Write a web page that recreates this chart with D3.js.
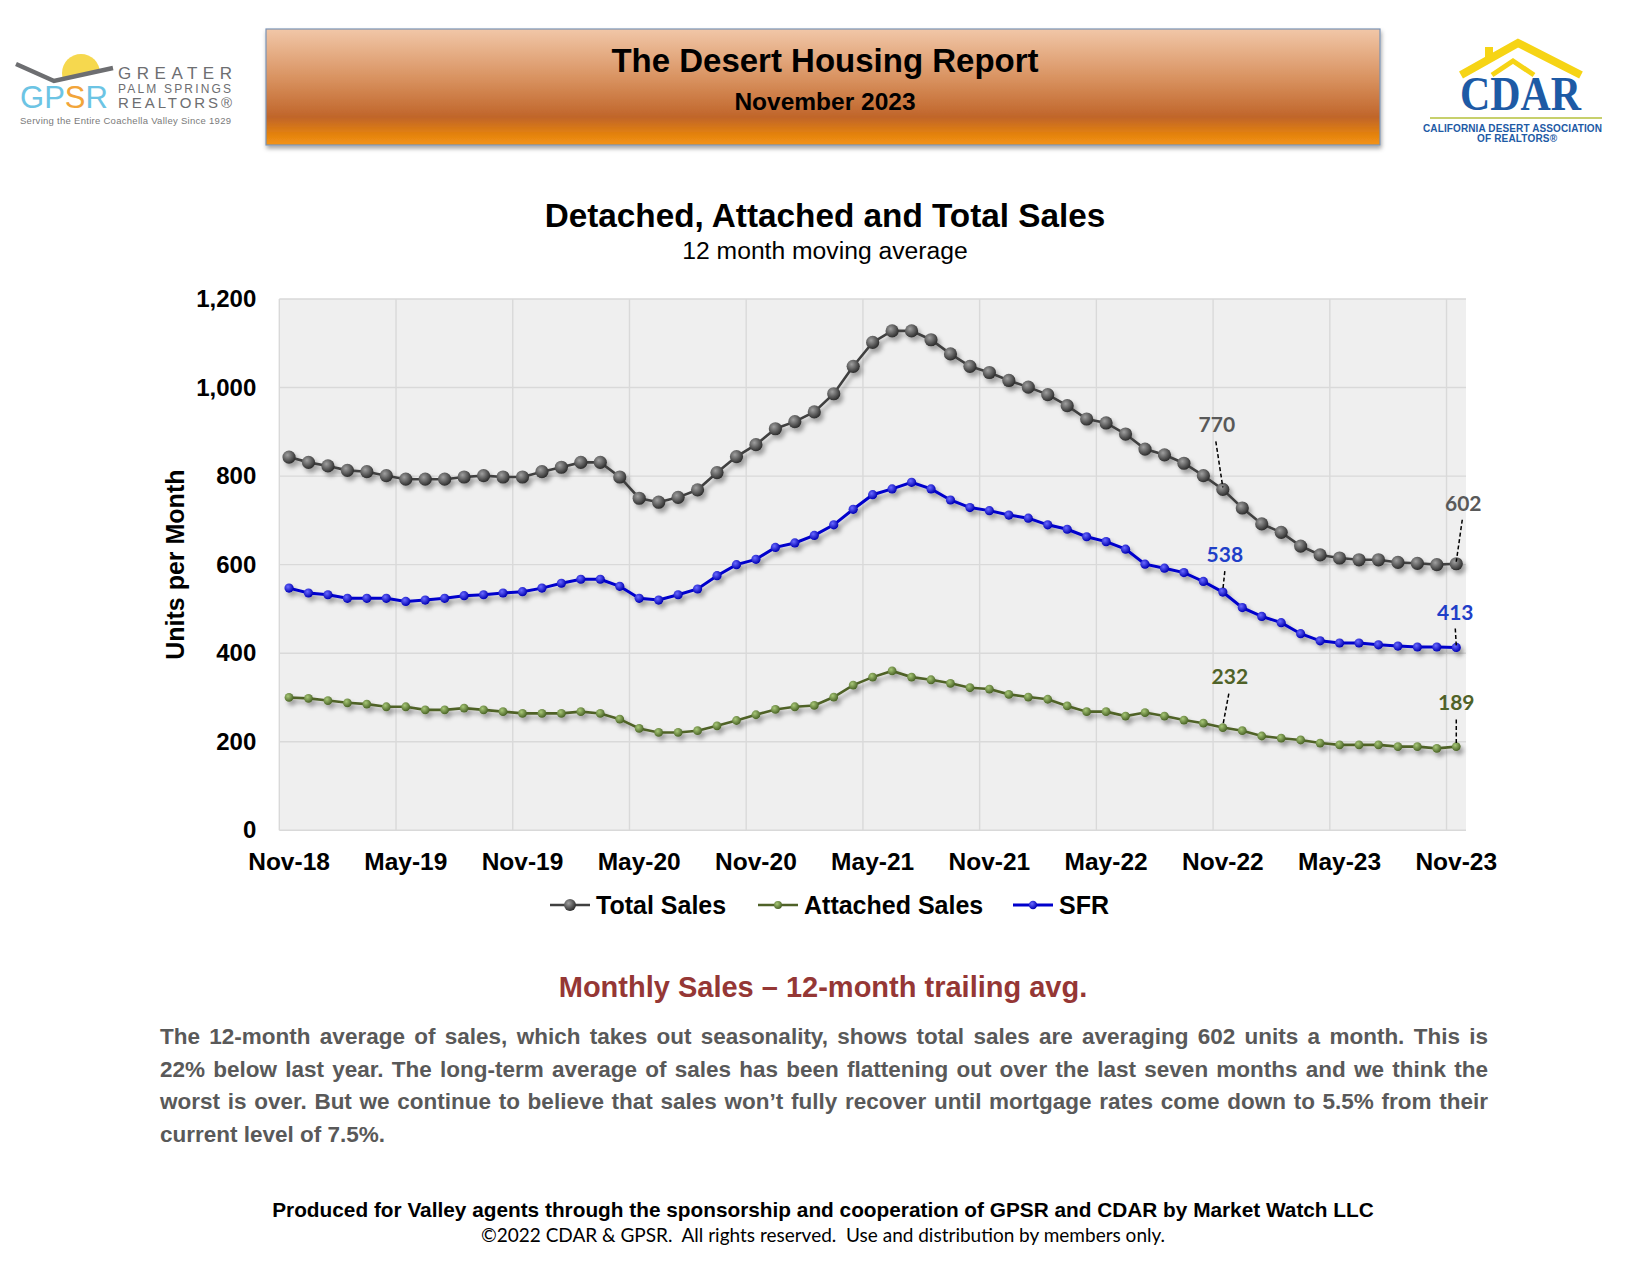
<!DOCTYPE html>
<html>
<head>
<meta charset="utf-8">
<script src="https://cdn.jsdelivr.net/npm/d3@7"></script>
<style>
  body { margin:0; background:#fff; }
  svg { display:block; }
</style>
</head>
<body>
<svg id="page" width="1650" height="1275"></svg>
<script>
// ---- data ----
const months = ["Nov-18","Dec-18","Jan-19","Feb-19","Mar-19","Apr-19","May-19","Jun-19","Jul-19","Aug-19","Sep-19","Oct-19",
  "Nov-19","Dec-19","Jan-20","Feb-20","Mar-20","Apr-20","May-20","Jun-20","Jul-20","Aug-20","Sep-20","Oct-20",
  "Nov-20","Dec-20","Jan-21","Feb-21","Mar-21","Apr-21","May-21","Jun-21","Jul-21","Aug-21","Sep-21","Oct-21",
  "Nov-21","Dec-21","Jan-22","Feb-22","Mar-22","Apr-22","May-22","Jun-22","Jul-22","Aug-22","Sep-22","Oct-22",
  "Nov-22","Dec-22","Jan-23","Feb-23","Mar-23","Apr-23","May-23","Jun-23","Jul-23","Aug-23","Sep-23","Oct-23","Nov-23"];
const tickMonths = ["Nov-18","May-19","Nov-19","May-20","Nov-20","May-21","Nov-21","May-22","Nov-22","May-23","Nov-23"];
const yTicks = [0,200,400,600,800,1000,1200];

const totalSales = [843,831,823,813,810,801,793,793,793,798,801,798,
  798,810,820,831,831,798,750,741,752,769,808,844,
  871,907,923,945,986,1048,1102,1128,1128,1108,1076,1048,
  1034,1016,1001,984,959,929,920,895,861,848,829,801,
  770,728,692,673,642,622,615,611,611,605,603,600,602];
const attachedSales = [300,298,293,288,285,279,279,272,272,276,272,268,
  264,264,264,268,264,251,230,221,221,225,236,248,
  261,273,279,282,301,328,346,360,346,340,332,322,
  319,307,301,296,281,268,268,258,266,258,249,242,
  232,225,213,208,204,197,193,193,193,189,189,185,189];
const sfrSales = [547,536,532,524,524,524,517,520,524,530,532,536,
  539,547,558,567,567,551,524,520,532,545,575,600,
  612,639,649,666,690,725,758,771,786,771,746,729,
  722,712,705,690,680,663,652,635,601,592,582,562,
  538,503,483,469,444,428,423,423,419,416,414,414,413];

const series = [
  { key:"total", name:"Total Sales",    values: totalSales,    line:"#404040", hi:"#a0a0a0", lo:"#2e2e2e", r:6.6, w:2.6, label:"#595959" },
  { key:"att",   name:"Attached Sales", values: attachedSales, line:"#4f6228", hi:"#a8c878", lo:"#4a6426", r:4.4, w:2.6, label:"#4f6228" },
  { key:"sfr",   name:"SFR",            values: sfrSales,      line:"#0000cc", hi:"#6a6aff", lo:"#0000b4", r:4.6, w:3,   label:"#1f3fc8" }
];
// callouts: which point, and where its label sits relative to it
const callouts = [
  { key:"total", month:"Nov-22", dx:-6, dy:-65, lx:-7, ly:-48 },
  { key:"total", month:"Nov-23", dx:7,  dy:-60, lx:6,  ly:-44 },
  { key:"sfr",   month:"Nov-22", dx:2,  dy:-37, lx:2,  ly:-21 },
  { key:"sfr",   month:"Nov-23", dx:-1, dy:-35, lx:-1, ly:-19 },
  { key:"att",   month:"Nov-22", dx:7,  dy:-51, lx:6,  ly:-34 },
  { key:"att",   month:"Nov-23", dx:0,  dy:-44, lx:0,  ly:-27 }
];

const paragraph = [
  "The 12-month average of sales, which takes out seasonality, shows total sales are averaging 602 units a month. This is",
  "22% below last year. The long-term average of sales has been flattening out over the last seven months and we think the",
  "worst is over. But we continue to believe that sales won\u2019t fully recover until mortgage rates come down to 5.5% from their",
  "current level of 7.5%."
];

const SANS = "'Liberation Sans', Arial, Helvetica, sans-serif";
const svg = d3.select("#page");
const defs = svg.append("defs");

// ---- banner ----
const bg = defs.append("linearGradient").attr("id","banner").attr("x1",0).attr("y1",0).attr("x2",0).attr("y2",1);
[[0,"#f1c7a8"],[0.45,"#d78f5c"],[0.76,"#c0652a"],[0.9,"#e2800f"],[1,"#f49414"]].forEach(s =>
  bg.append("stop").attr("offset",s[0]).attr("stop-color",s[1]));
const shadow = defs.append("filter").attr("id","bshadow").attr("x","-5%").attr("y","-10%").attr("width","110%").attr("height","130%");
shadow.append("feDropShadow").attr("dx",1).attr("dy",3).attr("stdDeviation",2).attr("flood-color","#000").attr("flood-opacity",0.35);

svg.append("rect").attr("x",266).attr("y",29).attr("width",1114).attr("height",116)
  .attr("fill","url(#banner)").attr("stroke","#7b93b5").attr("stroke-width",1.2).attr("filter","url(#bshadow)");
svg.append("text").attr("x",825).attr("y",72).attr("text-anchor","middle")
  .style("font-family",SANS).style("font-weight","bold").style("font-size","33px").attr("fill","#000")
  .text("The Desert Housing Report");
svg.append("text").attr("x",825).attr("y",110).attr("text-anchor","middle")
  .style("font-family",SANS).style("font-weight","bold").style("font-size","24.5px").attr("fill","#000")
  .text("November 2023");

// ---- GPSR logo ----
const gp = svg.append("g");
defs.append("clipPath").attr("id","sunclip").append("polygon").attr("points","0,0 200,0 200,68 112,68 54,80 0,64");
gp.append("circle").attr("cx",81).attr("cy",73).attr("r",19).attr("fill","#f6d84e").attr("clip-path","url(#sunclip)");
gp.append("polyline").attr("points","16,64 54,81 113,68").attr("fill","none").attr("stroke","#6d6e71").attr("stroke-width",4.5);
const gpsr = gp.append("text").attr("x",20).attr("y",108).style("font-family",SANS).style("font-size","31px");
[["G","#6cc4e4"],["P","#6cc4e4"],["S","#f2a53a"],["R","#6cc4e4"]].forEach(c => gpsr.append("tspan").attr("fill",c[1]).text(c[0]));
gp.append("text").attr("x",118).attr("y",79).attr("textLength",114).style("font-family",SANS).style("font-size","17px").attr("fill","#6d6e71").text("GREATER");
gp.append("text").attr("x",118).attr("y",93).attr("textLength",113).style("font-family",SANS).style("font-size","12px").attr("fill","#6d6e71").text("PALM SPRINGS");
gp.append("text").attr("x",118).attr("y",108).attr("textLength",114).style("font-family",SANS).style("font-size","15px").attr("fill","#6d6e71").text("REALTORS\u00ae");
gp.append("text").attr("x",20).attr("y",124).attr("textLength",211).style("font-family",SANS).style("font-size","9.5px").attr("fill","#7a7a7a")
  .text("Serving the Entire Coachella Valley Since 1929");

// ---- CDAR logo ----
const cd = svg.append("g");
cd.append("rect").attr("x",1485).attr("y",47).attr("width",8).attr("height",14).attr("fill","#f6d415");
cd.append("polyline").attr("points","1461,75 1518,43 1581,75").attr("fill","none").attr("stroke","#f6d415").attr("stroke-width",8).attr("stroke-linejoin","miter");
cd.append("polyline").attr("points","1492,75 1513,61 1534,75").attr("fill","none").attr("stroke","#f6d415").attr("stroke-width",5);
cd.append("text").attr("x",1460).attr("y",110).attr("textLength",121).attr("lengthAdjust","spacingAndGlyphs")
  .style("font-family","'Liberation Serif','DejaVu Serif',serif").style("font-weight","bold").style("font-size","48px").attr("fill","#1d5aa5").text("CDAR");
cd.append("line").attr("x1",1430).attr("x2",1602).attr("y1",118).attr("y2",118).attr("stroke","#c7d06c").attr("stroke-width",2);
cd.append("text").attr("x",1423).attr("y",131.5).attr("textLength",179).style("font-family",SANS).style("font-weight","bold").style("font-size","10px").attr("fill","#1d5aa5")
  .text("CALIFORNIA DESERT ASSOCIATION");
cd.append("text").attr("x",1517).attr("y",141.5).attr("text-anchor","middle").attr("textLength",80).style("font-family",SANS).style("font-weight","bold").style("font-size","10px").attr("fill","#1d5aa5")
  .text("OF REALTORS\u00ae");

// ---- chart titles ----
svg.append("text").attr("x",825).attr("y",227).attr("text-anchor","middle")
  .style("font-family",SANS).style("font-weight","bold").style("font-size","33.3px").attr("fill","#000")
  .text("Detached, Attached and Total Sales");
svg.append("text").attr("x",825).attr("y",259).attr("text-anchor","middle")
  .style("font-family",SANS).style("font-size","24.7px").attr("fill","#000")
  .text("12 month moving average");

// ---- plot ----
const plot = { left:279.3, right:1466, top:299, bottom:830.3 };
const x = d3.scaleBand().domain(months).range([plot.left, plot.right]);
const cx = m => x(m) + x.bandwidth()/2;
const y = d3.scaleLinear().domain([0,1200]).range([plot.bottom, plot.top]);

svg.append("rect").attr("x",plot.left).attr("y",plot.top).attr("width",plot.right-plot.left).attr("height",plot.bottom-plot.top).attr("fill","#efefef");

const grid = svg.append("g").attr("stroke","#d9d9d9").attr("stroke-width",1.4);
grid.selectAll("line.h").data(yTicks).join("line").attr("class","h")
  .attr("x1",plot.left).attr("x2",plot.right).attr("y1",d=>y(d)).attr("y2",d=>y(d));
grid.selectAll("line.v").data(tickMonths).join("line").attr("class","v")
  .attr("x1",d=>x(d)).attr("x2",d=>x(d)).attr("y1",plot.top).attr("y2",plot.bottom);

// y axis labels
const yAxis = svg.append("g").attr("transform",`translate(${plot.left},0)`)
  .call(d3.axisLeft(y).tickValues(yTicks).tickSize(0).tickPadding(23).tickFormat(d3.format(",")));
yAxis.select(".domain").remove();
yAxis.selectAll("text").style("font-family",SANS).style("font-weight","bold").style("font-size","24px").attr("fill","#000");

// x axis labels
const xAxis = svg.append("g").attr("transform",`translate(0,${plot.bottom})`)
  .call(d3.axisBottom(x).tickValues(tickMonths).tickSize(0).tickPadding(22));
xAxis.select(".domain").remove();
xAxis.selectAll("text").style("font-family",SANS).style("font-weight","bold").style("font-size","24.5px").attr("fill","#000");

svg.append("text").attr("transform",`translate(175,${(plot.top+plot.bottom)/2}) rotate(-90)`)
  .attr("text-anchor","middle").attr("dy","0.35em")
  .style("font-family",SANS).style("font-weight","bold").style("font-size","25px").attr("fill","#000")
  .text("Units per Month");

// marker gradients + shadow
series.forEach(s => {
  const g = defs.append("radialGradient").attr("id","ball-"+s.key).attr("cx","0.38").attr("cy","0.35").attr("r","0.65");
  g.append("stop").attr("offset",0).attr("stop-color",s.hi);
  g.append("stop").attr("offset",1).attr("stop-color",s.lo);
});
const ds = defs.append("filter").attr("id","dshadow").attr("x","-10%").attr("y","-10%").attr("width","120%").attr("height","130%");
ds.append("feDropShadow").attr("dx",3).attr("dy",4).attr("stdDeviation",2.2).attr("flood-color","#000").attr("flood-opacity",0.33);

const line = d3.line().x((d,i)=>cx(months[i])).y(d=>y(d));
series.forEach(s => {
  const g = svg.append("g").attr("filter","url(#dshadow)");
  g.append("path").datum(s.values).attr("d",line).attr("fill","none").attr("stroke",s.line).attr("stroke-width",s.w);
  g.selectAll("circle").data(s.values).join("circle")
    .attr("cx",(d,i)=>cx(months[i])).attr("cy",d=>y(d)).attr("r",s.r).attr("fill",`url(#ball-${s.key})`);
});

// callouts
callouts.forEach(c => {
  const s = series.find(d=>d.key===c.key);
  const v = s.values[months.indexOf(c.month)];
  const px = cx(c.month), py = y(v);
  svg.append("line").attr("x1",px+c.lx).attr("y1",py+c.ly).attr("x2",px).attr("y2",py-2)
    .attr("stroke","#000").attr("stroke-width",1.5).attr("stroke-dasharray","4,2.5");
  svg.append("text").attr("x",px+c.dx).attr("y",py+c.dy).attr("dy","0.35em").attr("text-anchor","middle")
    .style("font-family","Lato, 'Open Sans', sans-serif").style("font-weight","bold").style("font-size","21px")
    .attr("fill",s.label).text(d3.format(",")(v));
});

// legend
const legendX = [550, 758, 1013];
series.forEach((s,i) => {
  const g = svg.append("g").attr("transform",`translate(${legendX[i]},905)`);
  g.append("line").attr("x1",0).attr("x2",40).attr("stroke",s.line).attr("stroke-width",s.w);
  g.append("circle").attr("cx",20).attr("r",s.r*0.9).attr("fill",`url(#ball-${s.key})`);
  g.append("text").attr("x",46).attr("dy","0.35em").style("font-family",SANS).style("font-weight","bold").style("font-size","25px")
    .attr("fill","#000").text(s.name);
});

// ---- commentary ----
svg.append("text").attr("x",823).attr("y",997).attr("text-anchor","middle")
  .style("font-family",SANS).style("font-weight","bold").style("font-size","29px").attr("fill","#953735")
  .text("Monthly Sales \u2013 12-month trailing avg.");
const paraW = 1328;
svg.selectAll("text.para").data(paragraph).join("text").attr("class","para")
  .attr("x",160).attr("y",(d,i)=>1044+i*32.7)
  .style("font-family",SANS).style("font-weight","bold").style("font-size","22.5px").attr("fill","#595959")
  .text(d=>d)
  .each(function(d,i) {
    // justify all but the last line by widening the word gaps
    if (i === paragraph.length-1) return;
    const gaps = d.split(" ").length - 1;
    const extra = (paraW - this.getComputedTextLength()) / gaps;
    d3.select(this).style("word-spacing", extra + "px");
  });

svg.append("text").attr("x",823).attr("y",1217).attr("text-anchor","middle")
  .style("font-family",SANS).style("font-weight","bold").style("font-size","20.8px").attr("fill","#000")
  .text("Produced for Valley agents through the sponsorship and cooperation of GPSR and CDAR by Market Watch LLC");
svg.append("text").attr("x",823).attr("y",1242).attr("text-anchor","middle")
  .style("font-family","Lato, 'Open Sans', sans-serif").style("font-size","19px").style("white-space","pre").attr("fill","#000")
  .text("\u00a92022 CDAR & GPSR.  All rights reserved.  Use and distribution by members only.");
</script>
</body>
</html>
